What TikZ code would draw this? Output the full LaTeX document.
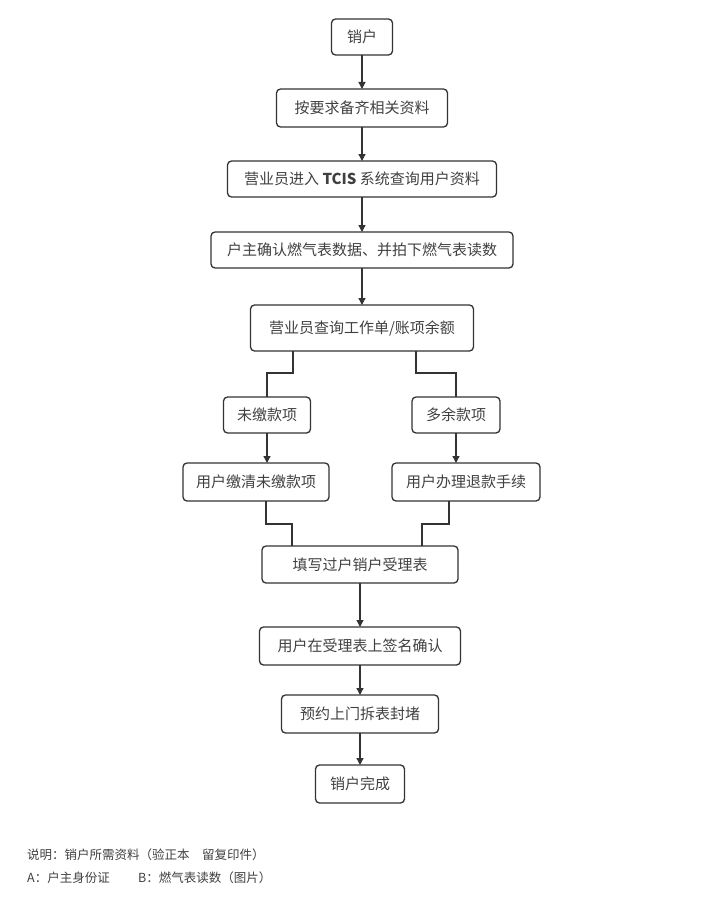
\documentclass[tikz,border=0pt]{standalone}
\usepackage{fontspec}
\setmainfont{Noto Sans CJK SC}
\usetikzlibrary{arrows.meta, positioning}

\begin{document}
\begin{tikzpicture}[
    x=1pt, y=-1pt,
    box/.style={draw=black!80, line width=1.3pt, rounded corners=4pt, minimum height=36pt, inner sep=2pt, outer sep=0pt, align=center, font=\fontsize{15}{17}\selectfont, text=black!75},
    arrow/.style={-{Triangle[length=7pt, width=7pt]}, line width=1.3pt, draw=black!80},
    link/.style={line width=1.3pt, draw=black!80},
    note/.style={anchor=west, inner sep=0pt, font=\fontsize{12.5}{14}\selectfont, text=black!75},
    node distance=34pt
]
    \useasboundingbox (0,0) rectangle (720,923);

    % main column
    \node[box, minimum width=61pt] (s1) at (362,37) {销户};
    \node[box, minimum width=171pt, minimum height=38pt, below=of s1] (s2) {按要求备齐相关资料};
    \node[box, minimum width=269pt, below=of s2]      (s3) {营业员进入 \textbf{TCIS} 系统查询用户资料};
    \node[box, minimum width=302pt, below=35pt of s3] (s4) {户主确认燃气表数据、并拍下燃气表读数};
    \node[box, minimum width=223pt, minimum height=46pt, below=37pt of s4] (s5) {营业员查询工作单/账项余额};

    % two branches
    \node[box, minimum width=87pt, below=46pt of s5, xshift=-95pt] (b1) {未缴款项};
    \node[box, minimum width=88pt, below=46pt of s5, xshift=94pt]  (b2) {多余款项};
    \node[box, minimum width=146pt, minimum height=38pt, below=30pt of b1, xshift=-11pt] (c1) {用户缴清未缴款项};
    \node[box, minimum width=148pt, minimum height=38pt, below=30pt of b2, xshift=10pt]  (c2) {用户办理退款手续};

    % back to one column
    \coordinate (mid) at (s5.south |- c1.south);
    \node[box, minimum width=196pt, minimum height=37pt, below=45pt of mid, xshift=-2pt] (s10) {填写过户销户受理表};
    \node[box, minimum width=201pt, minimum height=38pt, below=44pt of s10] (s11) {用户在受理表上签名确认};
    \node[box, minimum width=157pt, minimum height=38pt, below=30pt of s11] (s12) {预约上门拆表封堵};
    \node[box, minimum width=89pt, minimum height=38pt, below=32pt of s12]  (s13) {销户完成};

    \draw[arrow] (s1) -- (s1 |- s2.north);
    \draw[arrow] (s1 |- s2.south) -- (s1 |- s3.north);
    \draw[arrow] (s1 |- s3.south) -- (s1 |- s4.north);
    \draw[arrow] (s1 |- s4.south) -- (s1 |- s5.north);

    % split
    \coordinate (sl) at (293,373);
    \coordinate (sr) at (416,373);
    \draw[link] (sl |- s5.south) -- (sl) -| (b1.north);
    \draw[link] (sr |- s5.south) -- (sr) -| (b2.north);

    \draw[arrow] (b1.south) -- (b1.south |- c1.north);
    \draw[arrow] (b2.south) -- (b2.south |- c2.north);

    % merge
    \coordinate (ml) at (266,524);
    \coordinate (ml2) at (292,524);
    \coordinate (mr) at (449,524);
    \coordinate (mr2) at (422,524);
    \draw[link] (ml |- c1.south) -- (ml) -- (ml2) -- (ml2 |- s10.north);
    \draw[link] (mr |- c2.south) -- (mr) -- (mr2) -- (mr2 |- s10.north);

    \coordinate (cx) at (360,0);
    \draw[arrow] (cx |- s10.south) -- (cx |- s11.north);
    \draw[arrow] (cx |- s11.south) -- (cx |- s12.north);
    \draw[arrow] (cx |- s12.south) -- (cx |- s13.north);

    % notes
    \node[note] (n1) at (27,855) {说明：销户所需资料（验正本\quad 留复印件）};
    \node[note] (n2) at (27,878) {A：户主身份证};
    \node[note] (n3) at (138,878) {B：燃气表读数（图片）};
\end{tikzpicture}
\end{document}
